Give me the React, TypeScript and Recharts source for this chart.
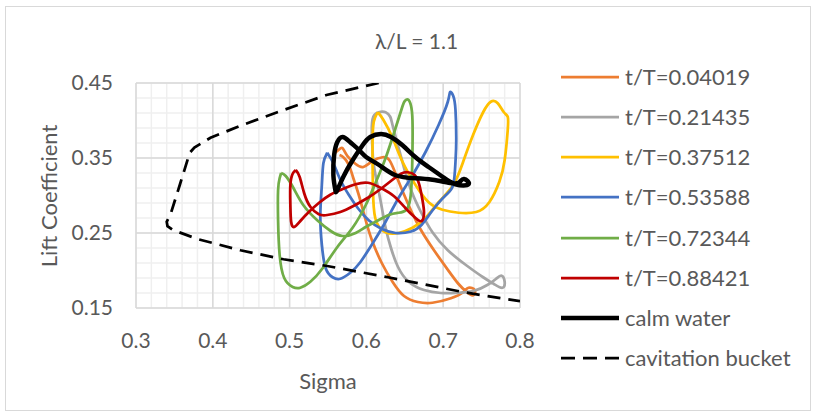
import { LineChart, Line, XAxis, YAxis, ReferenceLine } from 'recharts'

type Pt = [number, number] // [sigma, lift coefficient]

const LEGEND_NAMES = [
  't/T=0.04019',
  't/T=0.21435',
  't/T=0.37512',
  't/T=0.53588',
  't/T=0.72344',
  't/T=0.88421',
  'calm water',
  'cavitation bucket',
]

const X_TICKS = [0.3, 0.4, 0.5, 0.6, 0.7, 0.8]
const Y_TICKS = [0.15, 0.25, 0.35, 0.45]

const t04019: Pt[] = [
  [0.557, 0.355], [0.564, 0.361], [0.569, 0.363], [0.575, 0.353], [0.586, 0.342], [0.596, 0.338],
  [0.608, 0.346], [0.621, 0.351], [0.630, 0.347], [0.638, 0.329], [0.647, 0.306], [0.659, 0.278],
  [0.671, 0.254], [0.688, 0.227], [0.706, 0.201], [0.720, 0.182], [0.731, 0.171], [0.739, 0.167],
  [0.741, 0.174], [0.733, 0.177], [0.726, 0.171], [0.710, 0.163], [0.686, 0.157], [0.667, 0.158],
  [0.649, 0.166], [0.634, 0.185], [0.620, 0.210], [0.607, 0.241], [0.598, 0.271], [0.590, 0.301],
  [0.583, 0.323], [0.577, 0.341], [0.570, 0.351], [0.565, 0.354],
]

const t21435: Pt[] = [
  [0.608, 0.361], [0.607, 0.387], [0.609, 0.405], [0.616, 0.411], [0.625, 0.411], [0.631, 0.405],
  [0.634, 0.394], [0.641, 0.367], [0.649, 0.337], [0.659, 0.305], [0.671, 0.278], [0.686, 0.251],
  [0.706, 0.227], [0.730, 0.207], [0.752, 0.191], [0.766, 0.182], [0.777, 0.177], [0.780, 0.185],
  [0.776, 0.193], [0.769, 0.189], [0.758, 0.181], [0.740, 0.173], [0.716, 0.170], [0.697, 0.170],
  [0.675, 0.174], [0.655, 0.185], [0.641, 0.205], [0.632, 0.230], [0.625, 0.257], [0.619, 0.290],
  [0.613, 0.321], [0.609, 0.345], [0.608, 0.361],
]

const t37512: Pt[] = [
  [0.615, 0.411], [0.609, 0.394], [0.608, 0.347], [0.609, 0.294], [0.613, 0.265], [0.625, 0.251],
  [0.642, 0.250], [0.660, 0.257], [0.677, 0.270], [0.694, 0.291], [0.713, 0.314], [0.726, 0.345],
  [0.739, 0.381], [0.752, 0.411], [0.762, 0.425], [0.771, 0.423], [0.779, 0.411], [0.784, 0.405],
  [0.784, 0.387], [0.780, 0.347], [0.773, 0.318], [0.760, 0.291], [0.743, 0.278], [0.720, 0.277],
  [0.699, 0.281], [0.681, 0.291], [0.664, 0.314], [0.647, 0.345], [0.634, 0.377], [0.622, 0.401],
  [0.615, 0.411],
]

const t53588: Pt[] = [
  [0.549, 0.357], [0.557, 0.343], [0.566, 0.321], [0.577, 0.301], [0.589, 0.283], [0.603, 0.267],
  [0.619, 0.256], [0.638, 0.250], [0.658, 0.252], [0.672, 0.261], [0.686, 0.280], [0.703, 0.300],
  [0.713, 0.314], [0.716, 0.345], [0.717, 0.374], [0.716, 0.414], [0.713, 0.433], [0.709, 0.438],
  [0.706, 0.425], [0.694, 0.394], [0.677, 0.358], [0.660, 0.327], [0.642, 0.297], [0.625, 0.265],
  [0.608, 0.236], [0.592, 0.211], [0.579, 0.197], [0.566, 0.189], [0.556, 0.191], [0.547, 0.203],
  [0.542, 0.234], [0.540, 0.274], [0.542, 0.314], [0.544, 0.343], [0.549, 0.357],
]

const t72344: Pt[] = [
  [0.489, 0.330], [0.495, 0.326], [0.505, 0.310], [0.518, 0.287], [0.536, 0.267], [0.553, 0.253],
  [0.569, 0.246], [0.586, 0.250], [0.599, 0.258], [0.612, 0.265], [0.629, 0.274], [0.642, 0.277],
  [0.652, 0.281], [0.657, 0.295], [0.659, 0.320], [0.660, 0.360], [0.660, 0.400], [0.658, 0.420],
  [0.654, 0.428], [0.650, 0.426], [0.647, 0.419], [0.638, 0.390], [0.625, 0.350], [0.612, 0.317],
  [0.599, 0.287], [0.582, 0.257], [0.562, 0.231], [0.543, 0.203], [0.527, 0.185], [0.514, 0.177],
  [0.504, 0.178], [0.493, 0.190], [0.487, 0.221], [0.485, 0.267], [0.485, 0.307], [0.487, 0.323],
  [0.489, 0.330],
]

const t88421: Pt[] = [
  [0.508, 0.334], [0.513, 0.325], [0.519, 0.303], [0.527, 0.285], [0.538, 0.275], [0.549, 0.274],
  [0.566, 0.278], [0.583, 0.286], [0.602, 0.297], [0.619, 0.309], [0.634, 0.321], [0.645, 0.329],
  [0.654, 0.331], [0.663, 0.327], [0.669, 0.314], [0.673, 0.294], [0.675, 0.277], [0.672, 0.266],
  [0.664, 0.270], [0.651, 0.283], [0.636, 0.299], [0.619, 0.310], [0.602, 0.317], [0.586, 0.315],
  [0.570, 0.309], [0.553, 0.301], [0.538, 0.290], [0.525, 0.278], [0.514, 0.266], [0.506, 0.258],
  [0.502, 0.265], [0.501, 0.287], [0.501, 0.314], [0.504, 0.329], [0.508, 0.334],
]

const calmWater: Pt[] = [
  [0.560, 0.305], [0.557, 0.327], [0.558, 0.354], [0.562, 0.371], [0.569, 0.378], [0.579, 0.371],
  [0.590, 0.361], [0.600, 0.351], [0.616, 0.341], [0.638, 0.327], [0.664, 0.323], [0.686, 0.321],
  [0.707, 0.317], [0.720, 0.317], [0.727, 0.322], [0.733, 0.315], [0.716, 0.315], [0.699, 0.325],
  [0.681, 0.338], [0.664, 0.351], [0.647, 0.367], [0.632, 0.378], [0.619, 0.382], [0.605, 0.378],
  [0.595, 0.367], [0.582, 0.347], [0.570, 0.325], [0.562, 0.307], [0.560, 0.305],
]

const cavitationBucket: Pt[] = [
  [0.616, 0.450], [0.548, 0.434], [0.484, 0.411], [0.436, 0.393], [0.397, 0.377], [0.376, 0.364],
  [0.370, 0.357], [0.357, 0.314], [0.345, 0.275], [0.340, 0.265], [0.341, 0.259], [0.348, 0.254],
  [0.380, 0.242], [0.436, 0.227], [0.492, 0.215], [0.549, 0.206], [0.628, 0.191], [0.727, 0.171],
  [0.800, 0.159],
]

const SERIES = [
  { data: t04019, color: '#ED7D31', width: 2.75, dash: undefined, curve: 'natural' },
  { data: t21435, color: '#A5A5A5', width: 2.75, dash: undefined, curve: 'natural' },
  { data: t37512, color: '#FFC000', width: 2.75, dash: undefined, curve: 'natural' },
  { data: t53588, color: '#4472C4', width: 2.75, dash: undefined, curve: 'natural' },
  { data: t72344, color: '#70AD47', width: 2.75, dash: undefined, curve: 'natural' },
  { data: t88421, color: '#C00000', width: 2.75, dash: undefined, curve: 'natural' },
  { data: calmWater, color: '#000000', width: 4.5, dash: undefined, curve: 'natural' },
  { data: cavitationBucket, color: '#000000', width: 2.75, dash: '13 8', curve: 'linear' },
] as const

// minor grid every 0.02 on both axes
const minorX = Array.from({ length: 26 }, (_, i) => +(0.3 + i * 0.02).toFixed(2))
const minorY = Array.from({ length: 16 }, (_, i) => +(0.15 + i * 0.02).toFixed(2))

const FONT = 'Lato, "Open Sans", sans-serif'
const TEXT = '#595959'
const tickStyle = { fill: TEXT, fontSize: 21, fontFamily: FONT }

const toPoints = (pts: readonly Pt[]) => pts.map(([sigma, cl]) => ({ sigma, cl }))

export default function App() {
  return (
    <div style={{ position: 'absolute', left: 0, top: 0, width: 817, height: 416, background: '#fff', fontFamily: FONT }}>
      <div style={{ position: 'absolute', left: 5, top: 6, width: 806, height: 405, border: '1px solid #D9D9D9', boxSizing: 'border-box' }} />
      <div style={{ position: 'absolute', left: 0, width: 817, top: 27, textAlign: 'center', fontSize: 21, color: TEXT, lineHeight: '28px', paddingLeft: 16, boxSizing: 'border-box' }}>
        λ/L = 1.1
      </div>
      <div style={{ position: 'absolute', left: 48, top: 196, transform: 'translate(-50%, -50%) rotate(-90deg)', whiteSpace: 'nowrap', fontSize: 22, color: TEXT }}>
        Lift Coefficient
      </div>
      <div style={{ position: 'absolute', left: 328, top: 380, transform: 'translate(-50%, -50%)', fontSize: 22, color: TEXT }}>
        Sigma
      </div>

      <div style={{ position: 'absolute', left: 0, top: 0 }}>
        <LineChart width={817} height={416} margin={{ top: 83, right: 297, bottom: 68, left: 0 }}>
          <XAxis
            type="number"
            dataKey="sigma"
            domain={[0.3, 0.8]}
            ticks={X_TICKS}
            interval={0}
            allowDataOverflow
            axisLine={false}
            tickLine={false}
            tickSize={0}
            tickMargin={25}
            height={40}
            tick={tickStyle}
            tickFormatter={(v: number) => v.toFixed(1)}
          />
          <YAxis
            type="number"
            domain={[0.15, 0.45]}
            ticks={Y_TICKS}
            interval={0}
            allowDataOverflow
            axisLine={false}
            tickLine={false}
            tickSize={0}
            tickMargin={23}
            width={136}
            tick={tickStyle}
            tickFormatter={(v: number) => v.toFixed(2)}
          />
          {minorX.map((v) => (
            <ReferenceLine key={'mx' + v} x={v} stroke="#EFEFEF" strokeWidth={1.5} />
          ))}
          {minorY.map((v) => (
            <ReferenceLine key={'my' + v} y={v} stroke="#EFEFEF" strokeWidth={1.5} />
          ))}
          {X_TICKS.map((v) => (
            <ReferenceLine key={'x' + v} x={v} stroke="#D9D9D9" strokeWidth={1.5} />
          ))}
          {Y_TICKS.map((v) => (
            <ReferenceLine key={'y' + v} y={v} stroke="#D9D9D9" strokeWidth={1.5} />
          ))}
          {SERIES.map((s, i) => (
            <Line
              key={LEGEND_NAMES[i]}
              name={LEGEND_NAMES[i]}
              data={toPoints(s.data)}
              dataKey="cl"
              type={s.curve}
              stroke={s.color}
              strokeWidth={s.width}
              strokeDasharray={s.dash}
              dot={false}
              activeDot={false}
              isAnimationActive={false}
            />
          ))}
        </LineChart>
      </div>

      <div style={{ position: 'absolute', left: 561, top: 57 }}>
        {SERIES.map((s, i) => (
          <div key={LEGEND_NAMES[i]} style={{ display: 'flex', alignItems: 'center', height: 40.15 }}>
            <svg width={58} height={10} style={{ display: 'block' }}>
              <line x1={0} y1={5} x2={58} y2={5} stroke={s.color} strokeWidth={s.width} strokeDasharray={s.dash ? '14 8' : undefined} />
            </svg>
            <span style={{ marginLeft: 6, fontSize: 22, color: TEXT, whiteSpace: 'nowrap', lineHeight: '40px' }}>{LEGEND_NAMES[i]}</span>
          </div>
        ))}
      </div>
    </div>
  )
}
